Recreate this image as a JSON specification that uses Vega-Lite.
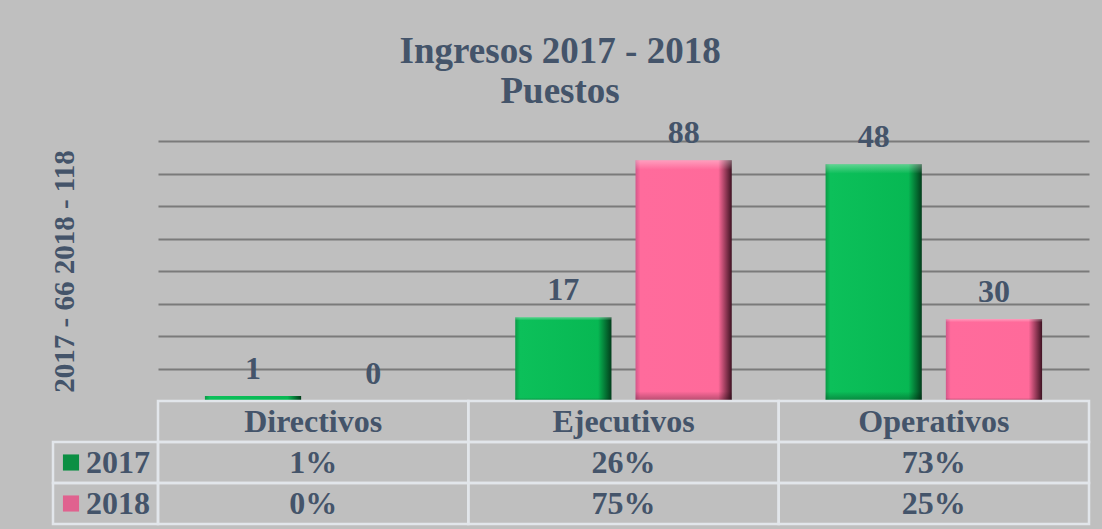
{
  "$schema": "https://vega.github.io/schema/vega-lite/v6.json",
  "background": "#bfbfbf",
  "padding": {"left": 49, "top": 33, "right": 14, "bottom": 4},
  "title": {
    "text": ["Ingresos 2017 - 2018", "Puestos"],
    "font": "Liberation Serif",
    "fontSize": 37,
    "fontWeight": "bold",
    "color": "#44546a",
    "lineHeight": 40,
    "anchor": "middle",
    "offset": 6,
    "dx": -10
  },
  "datasets": {
    "puestos": [
      {"categoria": "Directivos", "anio": "2017", "ingresos": 1, "porcentaje": "1%"},
      {"categoria": "Ejecutivos", "anio": "2017", "ingresos": 17, "porcentaje": "26%"},
      {"categoria": "Operativos", "anio": "2017", "ingresos": 48, "porcentaje": "73%"},
      {"categoria": "Directivos", "anio": "2018", "ingresos": 0, "porcentaje": "0%"},
      {"categoria": "Ejecutivos", "anio": "2018", "ingresos": 88, "porcentaje": "75%"},
      {"categoria": "Operativos", "anio": "2018", "ingresos": 30, "porcentaje": "25%"}
    ]
  },
  "data": {"name": "puestos"},
  "columns": 2,
  "spacing": 0,
  "bounds": "flush",
  "concat": [
    {
      "width": 105,
      "height": 260,
      "data": {"values": [{}]},
      "mark": {"type": "point", "opacity": 0},
      "encoding": {}
    },
    {
      "width": 931,
      "height": 260,
      "layer": [
        {
          "transform": [{"filter": "datum.anio == '2017'"}],
          "encoding": {
            "x": {"field": "categoria", "type": "nominal", "scale": {"domain": ["Directivos", "Ejecutivos", "Operativos"], "paddingInner": 0, "paddingOuter": 0}, "axis": null},
            "xOffset": {"field": "anio", "type": "nominal", "scale": {"domain": ["2017", "2018"], "paddingInner": 0.2, "paddingOuter": 0.39}},
            "y": {
              "field": "ingresos", "type": "quantitative",
              "scale": {"domain": [0, 52.7], "nice": false},
              "axis": {
                "values": [6.5875, 13.175, 19.7625, 26.35, 32.9375, 39.525, 46.1125, 52.7],
                "grid": true, "gridColor": "#7a7a7a", "gridWidth": 2,
                "labels": false, "ticks": false, "domain": false,
                "title": "2017 - 66  2018 - 118",
                "titleFont": "Liberation Serif", "titleFontSize": 29, "titleFontWeight": "bold",
                "titleColor": "#44546a", "titlePadding": 79
              }
            }
          },
          "layer": [
            {"mark": {"type": "bar", "color": {"gradient": "linear", "x1": 0, "x2": 1, "y1": 0, "y2": 0, "stops": [{"offset": 0, "color": "#0a9a46"}, {"offset": 0.05, "color": "#0cc05a"}, {"offset": 0.86, "color": "#07b853"}, {"offset": 1, "color": "#023d1b"}]}}},
            {"mark": {"type": "bar", "color": {"gradient": "linear", "x1": 0, "x2": 0, "y1": 0, "y2": 1, "stops": [{"offset": 0, "color": "rgba(255,255,255,0.35)"}, {"offset": 0.04, "color": "rgba(255,255,255,0.0)"}, {"offset": 0.96, "color": "rgba(0,0,0,0.0)"}, {"offset": 1, "color": "rgba(0,0,0,0.3)"}]}}},
            {"mark": {"type": "text", "baseline": "alphabetic", "dy": -17, "font": "Liberation Serif", "fontSize": 32, "fontWeight": "bold", "color": "#44546a"}, "encoding": {"text": {"field": "ingresos", "type": "quantitative"}}}
          ]
        },
        {
          "transform": [{"filter": "datum.anio == '2018'"}],
          "encoding": {
            "x": {"field": "categoria", "type": "nominal", "scale": {"domain": ["Directivos", "Ejecutivos", "Operativos"], "paddingInner": 0, "paddingOuter": 0}, "axis": null},
            "xOffset": {"field": "anio", "type": "nominal", "scale": {"domain": ["2017", "2018"], "paddingInner": 0.2, "paddingOuter": 0.39}},
            "y": {"field": "ingresos", "type": "quantitative", "scale": {"domain": [0, 95], "nice": false}, "axis": null}
          },
          "layer": [
            {"mark": {"type": "bar", "color": {"gradient": "linear", "x1": 0, "x2": 1, "y1": 0, "y2": 0, "stops": [{"offset": 0, "color": "#d4568a"}, {"offset": 0.05, "color": "#ff6b9c"}, {"offset": 0.86, "color": "#ff6a9a"}, {"offset": 1, "color": "#3e1222"}]}}},
            {"mark": {"type": "bar", "color": {"gradient": "linear", "x1": 0, "x2": 0, "y1": 0, "y2": 1, "stops": [{"offset": 0, "color": "rgba(255,255,255,0.35)"}, {"offset": 0.04, "color": "rgba(255,255,255,0.0)"}, {"offset": 0.96, "color": "rgba(0,0,0,0.0)"}, {"offset": 1, "color": "rgba(0,0,0,0.3)"}]}}},
            {"mark": {"type": "text", "baseline": "alphabetic", "dy": -17, "font": "Liberation Serif", "fontSize": 32, "fontWeight": "bold", "color": "#44546a"}, "encoding": {"text": {"field": "ingresos", "type": "quantitative"}}}
          ]
        }
      ],
      "resolve": {"scale": {"y": "independent"}, "axis": {"y": "independent"}}
    },
    {
      "width": 105,
      "height": 123,
      "transform": [{"filter": "datum.categoria == 'Directivos'"}],
      "encoding": {
        "y": {"field": "anio", "type": "nominal", "scale": {"domain": ["header", "2017", "2018"], "paddingInner": 0, "paddingOuter": 0}, "axis": null}
      },
      "layer": [
        {"mark": {"type": "rect", "filled": false, "color": "#e2e6eb", "strokeWidth": 2.5}},
        {
          "mark": {"type": "point", "shape": "square", "filled": true, "size": 260, "opacity": 1},
          "encoding": {
            "x": {"datum": "simbolo", "type": "nominal", "scale": {"type": "point", "domain": ["simbolo", "etiqueta"], "range": [18, 97], "padding": 0}, "axis": null},
            "color": {"field": "anio", "type": "nominal", "scale": {"domain": ["2017", "2018"], "range": ["#0b8f43", "#e0628f"]}, "legend": null}
          }
        },
        {
          "mark": {"type": "text", "align": "right", "baseline": "middle", "font": "Liberation Serif", "fontSize": 32, "fontWeight": "bold", "color": "#44546a"},
          "encoding": {
            "x": {"datum": "etiqueta", "type": "nominal"},
            "text": {"field": "anio", "type": "nominal"}
          }
        }
      ]
    },
    {
      "width": 931,
      "height": 123,
      "encoding": {
        "x": {"field": "categoria", "type": "nominal", "scale": {"domain": ["Directivos", "Ejecutivos", "Operativos"], "paddingInner": 0, "paddingOuter": 0}, "axis": null}
      },
      "layer": [
        {
          "mark": {"type": "rect", "filled": false, "color": "#e2e6eb", "strokeWidth": 2.5},
          "encoding": {"y": {"field": "anio", "type": "nominal", "scale": {"domain": ["header", "2017", "2018"], "paddingInner": 0, "paddingOuter": 0}, "axis": null}}
        },
        {
          "transform": [{"filter": "datum.anio == '2017'"}],
          "mark": {"type": "rect", "filled": false, "color": "#e2e6eb", "strokeWidth": 2.5},
          "encoding": {"y": {"datum": "header", "type": "nominal"}}
        },
        {
          "mark": {"type": "text", "baseline": "middle", "font": "Liberation Serif", "fontSize": 32, "fontWeight": "bold", "color": "#44546a"},
          "encoding": {
            "y": {"field": "anio", "type": "nominal"},
            "text": {"field": "porcentaje", "type": "nominal"}
          }
        },
        {
          "transform": [{"filter": "datum.anio == '2017'"}],
          "mark": {"type": "text", "baseline": "middle", "font": "Liberation Serif", "fontSize": 32, "fontWeight": "bold", "color": "#44546a"},
          "encoding": {
            "y": {"datum": "header", "type": "nominal"},
            "text": {"field": "categoria", "type": "nominal"}
          }
        }
      ]
    }
  ],
  "config": {"view": {"stroke": null}, "font": "Liberation Serif"}
}
